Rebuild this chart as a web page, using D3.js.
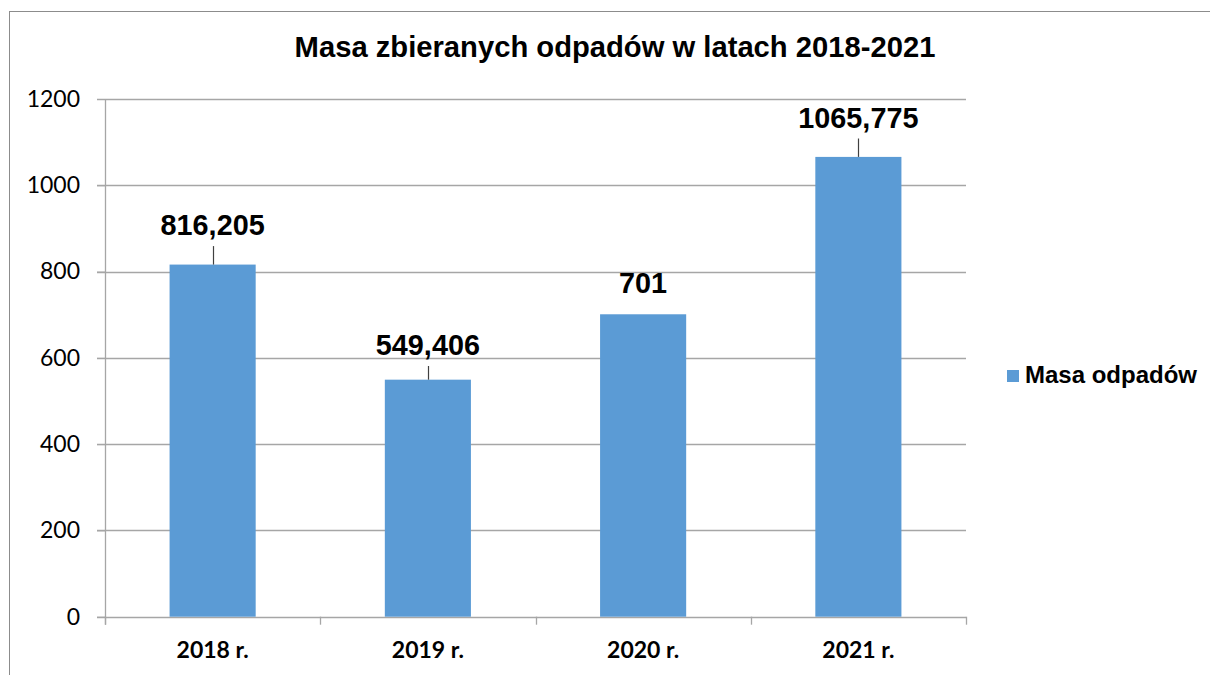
<!DOCTYPE html>
<meta charset="utf-8">
<style>
  body { margin: 0; background: #fff; }
</style>
<body>
<div id="chart"></div>
<script src="https://d3js.org/d3.v7.min.js"></script>
<script>

// data
var years = ["2018 r.", "2019 r.", "2020 r.", "2021 r."];
var masa = [816.205, 549.406, 701, 1065.775];
var masaLabels = ["816,205", "549,406", "701", "1065,775"];
var yTicks = [0, 200, 400, 600, 800, 1000, 1200];
var seriesName = "Masa odpadów";
var title = "Masa zbieranych odpadów w latach 2018-2021";

var W = 1210, H = 675;
var plot = {left: 105, right: 966, top: 99, bottom: 616.7};
var barColor = "#5b9bd5";
var gridColor = "#a6a6a6";

var svg = d3.select("#chart")
  .append("svg")
    .attr("width", W)
    .attr("height", H);

// outer chart frame (right/bottom edges sit off the page)
svg.append("rect")
  .attr("x", 9.5).attr("y", 11.5)
  .attr("width", 1400).attr("height", 900)
  .attr("fill", "none")
  .attr("stroke", "#8c8c8c")
  .attr("stroke-width", 1);

var x = d3.scaleBand()
  .domain(years)
  .range([plot.left, plot.right])
  .paddingInner(0.6)
  .paddingOuter(0.3);

var y = d3.scaleLinear()
  .domain([0, 1200])
  .range([plot.bottom, plot.top]);

// gridlines
svg.append("g")
  .selectAll("line")
  .data(yTicks)
  .enter()
  .append("line")
    .attr("x1", plot.left - 8)
    .attr("x2", plot.right)
    .attr("y1", function(d) { return Math.round(y(d)) + 0.5; })
    .attr("y2", function(d) { return Math.round(y(d)) + 0.5; })
    .attr("stroke", gridColor)
    .attr("stroke-width", 1.3);

// y axis labels
var yAxis = svg.append("g")
  .attr("transform", "translate(" + plot.left + ",0)")
  .call(d3.axisLeft(y).tickValues(yTicks).tickFormat(d3.format("d")).tickSize(8).tickPadding(17));
yAxis.select(".domain").remove();
yAxis.selectAll("line").attr("stroke", gridColor);
yAxis.selectAll("text")
  .attr("fill", "#000")
  .style("font-family", "Lato, 'Open Sans', sans-serif")
  .style("font-size", "23px");

// category boundary ticks below the baseline
var bounds = years.map(function(d) { return x(d) - x.step() * x.paddingOuter(); });
bounds.push(plot.right);
svg.append("g")
  .selectAll("line")
  .data(bounds)
  .enter()
  .append("line")
    .attr("x1", function(d) { return Math.round(d) + 0.5; })
    .attr("x2", function(d) { return Math.round(d) + 0.5; })
    .attr("y1", plot.bottom)
    .attr("y2", plot.bottom + 8)
    .attr("stroke", gridColor)
    .attr("stroke-width", 1.3);

// y axis line
svg.append("line")
  .attr("x1", plot.left + 0.5).attr("x2", plot.left + 0.5)
  .attr("y1", plot.top).attr("y2", plot.bottom + 8)
  .attr("stroke", gridColor)
  .attr("stroke-width", 1.3);

// bars
svg.append("g")
  .selectAll("rect")
  .data(masa)
  .enter()
  .append("rect")
    .attr("x", function(d, i) { return x(years[i]); })
    .attr("width", x.bandwidth())
    .attr("y", function(d) { return y(d); })
    .attr("height", function(d) { return y(0) - y(d); })
    .attr("fill", barColor);

// x axis labels
var xAxis = svg.append("g")
  .attr("transform", "translate(0," + plot.bottom + ")")
  .call(d3.axisBottom(x).tickSize(0).tickPadding(25));
xAxis.select(".domain").remove();
xAxis.selectAll("text")
  .attr("fill", "#000")
  .style("font-family", "Lato, 'Open Sans', sans-serif")
  .style("font-weight", "bold")
  .style("font-size", "23px");

// data labels, lifted above the bar like Excel placed them
var labelLift = [29.5, 24.7, 21, 29.4];
var labels = svg.append("g");
masa.forEach(function(d, i) {
  var cx = x(years[i]) + x.bandwidth() / 2;
  var base = y(d) - labelLift[i];
  labels.append("text")
    .attr("x", cx)
    .attr("y", base)
    .attr("text-anchor", "middle")
    .style("font-family", "'Liberation Sans', Arial, sans-serif")
    .style("font-weight", "bold")
    .style("font-size", "28.8px")
    .text(masaLabels[i]);
  if (labelLift[i] > 24) {
    labels.append("line")
      .attr("x1", Math.round(cx) + 0.5).attr("x2", Math.round(cx) + 0.5)
      .attr("y1", base + 11).attr("y2", y(d))
      .attr("stroke", "#404040")
      .attr("stroke-width", 1.2);
  }
});

// title
svg.append("text")
  .attr("x", 615)
  .attr("y", 57)
  .attr("text-anchor", "middle")
  .style("font-family", "'Liberation Sans', Arial, sans-serif")
  .style("font-weight", "bold")
  .style("font-size", "29.2px")
  .text(title);

// legend
var legend = svg.append("g").attr("transform", "translate(1007,370)");
legend.append("rect")
  .attr("width", 12).attr("height", 12)
  .attr("fill", barColor);
legend.append("text")
  .attr("x", 18)
  .attr("y", 13.3)
  .style("font-family", "'Liberation Sans', Arial, sans-serif")
  .style("font-weight", "bold")
  .style("font-size", "24px")
  .text(seriesName);

</script>
</body>
